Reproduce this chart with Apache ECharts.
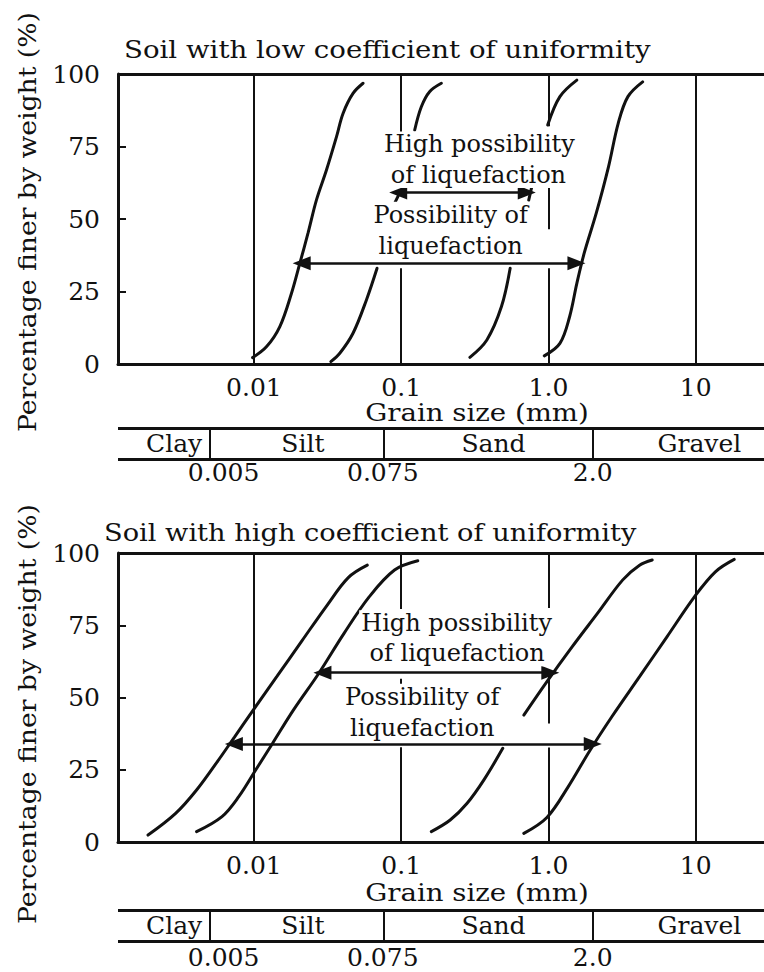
<!DOCTYPE html>
<html>
<head>
<meta charset="utf-8">
<script src="https://cdn.jsdelivr.net/npm/echarts@6/dist/echarts.min.js"></script>
<style>
  html, body { margin: 0; padding: 0; background: #fff; }
  #chart { width: 764px; height: 972px; }
</style>
</head>
<body>
<div id="chart"></div>
<script>
// ---- axis ticks ----
const decadeTicks = [0.01, 0.1, 1, 10];
const decadeLabels = ['0.01', '0.1', '1.0', '10'];
const pctTicks = [0, 25, 50, 75, 100];

// ---- soil classification band ----
const classBounds = [0.005, 0.075, 2.0];
const classBoundLabels = ['0.005', '0.075', '2.0'];
const classNames = ['Clay', 'Silt', 'Sand', 'Gravel'];
const classNameAt = [0.00287, 0.0215, 0.424, 10.6];

// ---- gradation curves: [grain size (mm), % finer]; each inner list is one drawn piece ----
const lowCuA = [[[0.0098, 2.2], [0.0122, 6.0], [0.0150, 12.9], [0.0180, 24.4], [0.0205, 34.7], [0.0233, 45.1],
                 [0.0266, 56.6], [0.0311, 66.9], [0.0364, 78.4], [0.0403, 86.4], [0.0471, 93.3], [0.0551, 96.8]]];
const lowCuB = [[[0.0333, 0.8], [0.0383, 3.7], [0.0471, 10.6], [0.0581, 22.1], [0.0686, 33.0]],
                [[0.0875, 54.0], [0.0977, 59.0]],
                [[0.1236, 80.7], [0.1371, 88.7], [0.1560, 93.9], [0.1875, 96.8]]];
const lowCuC = [[[0.293, 2.3], [0.382, 8.3], [0.480, 19.8], [0.550, 33.0]],
                [[0.735, 56.5], [0.770, 61.0]],
                [[0.989, 82.4], [1.197, 92.2], [1.560, 97.9]]];
const lowCuD = [[[0.938, 2.8], [1.197, 7.1], [1.393, 16.3], [1.560, 27.8], [1.750, 38.2], [2.113, 52.0],
                 [2.559, 68.0], [2.979, 83.0], [3.467, 92.2], [4.365, 97.3]]];

const highCuA = [[[0.00191, 2.4], [0.00294, 9.9], [0.00408, 18.0], [0.00568, 28.0], [0.00740, 36.4],
                  [0.0100, 46.0], [0.01429, 57.2], [0.02118, 69.6], [0.03148, 82.0], [0.04375, 91.5], [0.05888, 95.8]]];
const highCuB = [[[0.00408, 3.6], [0.00607, 8.8], [0.00789, 15.7], [0.01028, 24.9], [0.01337, 34.1],
                  [0.01858, 45.7], [0.02761, 58.4], [0.04093, 72.2], [0.06081, 84.9], [0.09016, 94.1], [0.1297, 97.3]]];
const highCuC = [[[0.1603, 3.6], [0.2153, 7.6], [0.2805, 13.4], [0.3648, 21.5], [0.4898, 32.4]],
                 [[0.6808, 43.9], [0.9772, 55.5], [1.452, 67.6], [2.153, 79.1], [3.199, 90.7], [4.159, 95.8], [5.070, 97.6]]];
const highCuD = [[[0.6808, 3.0], [0.9772, 8.5], [1.358, 19.0], [1.905, 31.5], [2.710, 43.5], [4.159, 57.2],
                  [6.383, 71.0], [9.863, 85.0], [13.61, 93.5], [18.28, 97.8]]];

// ---- decade gridlines, drawn in pieces: [grain size, from %, to %] ----
const lowCuGrid = [[0.01, 0, 100], [0.1, 80, 100], [0.1, 0, 33], [1, 82, 100], [1, 46.5, 62], [1, 0, 33], [10, 0, 100]];
const highCuGrid = [[0.01, 0, 100], [0.1, 80.6, 100], [0.1, 53, 56.5], [0.1, 0, 32.8],
                    [1, 81, 100], [1, 41, 58], [1, 0, 32.7], [10, 0, 100]];

// ---- liquefaction ranges: [from size, to size, at %] ----
const lowCuRanges = [[0.0955, 0.713, 59.1], [0.0211, 1.55, 34.7]];
const highCuRanges = [[0.0292, 1.03, 58.6], [0.00731, 2.0, 33.9]];

// ---- annotation text: [grain size, %, text] ----
const lowCuNotes = [[0.34, 75.7, 'High possibility'], [0.335, 65.2, 'of liquefaction'],
                    [0.217, 51.5, 'Possibility of'], [0.217, 40.6, 'liquefaction']];
const highCuNotes = [[0.238, 75.7, 'High possibility'], [0.240, 65.3, 'of liquefaction'],
                     [0.139, 50.3, 'Possibility of'], [0.139, 39.3, 'liquefaction']];

const panelTitles = ['Soil with low coefficient of uniformity', 'Soil with high coefficient of uniformity'];
const yName = 'Percentage finer by weight (%)';
const xName = 'Grain size (mm)';

// ---------------------------------------------------------------
const lg = Math.log10;
const X_MIN = -2.923, X_MAX = 1.6;
const PLOT_W = 666;
const FONT = '"DejaVu Serif", "Liberation Serif", serif';
const INK = '#111';
const plainLabel = { textBorderWidth: 0, textBorderColor: 'transparent', textShadowBlur: 0, opacity: 1 };

const panels = [
  { top: 74, height: 290, bandTop: 428, bandLabelGap: 1, curves: [lowCuA, lowCuB, lowCuC, lowCuD],
    grid: lowCuGrid, ranges: lowCuRanges, notes: lowCuNotes,
    title: panelTitles[0], titleX: 124, titleY: 50, titleScale: 1.15, xNameY: 413, yNameY: 222 },
  { top: 553, height: 289, bandTop: 910, bandLabelGap: 4, curves: [highCuA, highCuB, highCuC, highCuD],
    grid: highCuGrid, ranges: highCuRanges, notes: highCuNotes,
    title: panelTitles[1], titleX: 104, titleY: 533, titleScale: 1.135, xNameY: 893, yNameY: 714 }
];

const grids = [], xAxes = [], yAxes = [], series = [], graphics = [];

function decadeLabel(v) {
  const i = decadeTicks.findIndex(t => Math.abs(lg(t) - v) < 1e-6);
  return i < 0 ? '' : decadeLabels[i];
}
function boundLabel(v) {
  const i = classBounds.findIndex(t => Math.abs(lg(t) - v) < 1e-6);
  if (i < 0) return '';
  return i === 0 ? '{first|' + classBoundLabels[i] + '}' : classBoundLabels[i];
}

panels.forEach(p => {
  const gi = grids.length;
  // main plot
  grids.push({ left: 118, width: PLOT_W, top: p.top, height: p.height, outerBoundsMode: 'none', containLabel: false });
  xAxes.push({
    type: 'value', gridIndex: gi, min: X_MIN, max: X_MAX,
    axisLine: { show: true, onZero: false, lineStyle: { color: INK, width: 3 } },
    axisTick: { show: false }, splitLine: { show: false },
    axisLabel: { customValues: decadeTicks.map(lg), formatter: decadeLabel, margin: 11,
                 fontFamily: FONT, fontSize: 25, color: INK }
  });
  yAxes.push({
    type: 'value', gridIndex: gi, min: 0, max: 100, interval: 25,
    axisLine: { show: true, onZero: false, lineStyle: { color: INK, width: 3 } },
    axisTick: { show: true, inside: true, length: 8, lineStyle: { color: INK, width: 2 } },
    splitLine: { show: false },
    axisLabel: { margin: 18, fontFamily: FONT, fontSize: 25, color: INK,
                 formatter: v => pctTicks.includes(v) ? String(v) : '' }
  });

  // gridlines + top border
  series.push({
    type: 'line', xAxisIndex: gi, yAxisIndex: gi, data: [], silent: true, z: 1,
    markLine: {
      silent: true, symbol: ['none', 'none'], animation: false, label: { show: false },
      lineStyle: { color: INK, width: 2, type: 'solid' },
      data: p.grid.map(g => [{ coord: [lg(g[0]), g[1]] }, { coord: [lg(g[0]), g[2]] }])
        .concat([[{ coord: [X_MIN, 100], lineStyle: { width: 3 } }, { coord: [X_MAX, 100] }]])
    }
  });

  // gradation curves
  p.curves.forEach(curve => {
    curve.forEach(piece => {
      series.push({
        type: 'line', xAxisIndex: gi, yAxisIndex: gi, smooth: 0.35, showSymbol: false, silent: true, z: 3,
        lineStyle: { color: INK, width: 3, cap: 'round' },
        data: piece.map(pt => [lg(pt[0]), pt[1]])
      });
    });
  });

  // liquefaction range arrows
  series.push({
    type: 'line', xAxisIndex: gi, yAxisIndex: gi, data: [], silent: true, z: 6,
    markLine: {
      silent: true, animation: false, label: { show: false },
      symbol: ['triangle', 'triangle'], symbolSize: [14, 18],
      lineStyle: { color: INK, width: 2.5, type: 'solid' },
      itemStyle: { color: INK },
      data: p.ranges.map(r => [{ coord: [lg(r[0]), r[2]] }, { coord: [lg(r[1]), r[2]] }])
    }
  });

  // annotation text
  series.push({
    type: 'scatter', xAxisIndex: gi, yAxisIndex: gi, symbolSize: 0, silent: true, z: 5,
    itemStyle: { color: INK, opacity: 1 },
    data: p.notes.map(n => ({ value: [lg(n[0]), n[1]], label: { formatter: n[2] } })),
    label: Object.assign({ show: true, position: 'inside', fontFamily: FONT, fontSize: 24, color: INK,
             backgroundColor: '#fff', padding: [1, 2] }, plainLabel)
  });

  // classification band
  const bi = grids.length;
  grids.push({ left: 118, width: PLOT_W, top: p.bandTop, height: 31, outerBoundsMode: 'none', containLabel: false });
  xAxes.push({
    type: 'value', gridIndex: bi, min: X_MIN, max: X_MAX,
    axisLine: { show: false }, axisTick: { show: false }, splitLine: { show: false },
    axisLabel: { customValues: classBounds.map(lg), formatter: boundLabel, margin: p.bandLabelGap,
                 fontFamily: FONT, fontSize: 25, color: INK,
                 rich: { first: { fontFamily: FONT, fontSize: 25, color: INK, padding: [0, 0, 0, 28] } } }
  });
  yAxes.push({ type: 'value', gridIndex: bi, min: 0, max: 1, show: false });
  series.push({
    type: 'line', xAxisIndex: bi, yAxisIndex: bi, data: [], silent: true,
    markLine: {
      silent: true, symbol: ['none', 'none'], animation: false, label: { show: false },
      lineStyle: { color: INK, width: 2, type: 'solid' },
      data: classBounds.map(b => ({ xAxis: lg(b) }))
        .concat([{ yAxis: 0, lineStyle: { width: 3 } }, { yAxis: 1, lineStyle: { width: 3 } }])
    }
  });
  series.push({
    type: 'scatter', xAxisIndex: bi, yAxisIndex: bi, symbolSize: 0, silent: true,
    itemStyle: { color: INK, opacity: 1 },
    data: classNames.map((n, i) => ({ value: [lg(classNameAt[i]), 0.5], label: { formatter: n } })),
    label: Object.assign({ show: true, position: 'inside', fontFamily: FONT, fontSize: 25, color: INK }, plainLabel)
  });

  // panel title, x-axis name, y-axis name
  graphics.push({ type: 'text', x: p.titleX, y: p.titleY, scaleX: p.titleScale,
    style: { text: p.title, font: '24px ' + FONT, fill: INK, textAlign: 'left', textVerticalAlign: 'middle' } });
  graphics.push({ type: 'text', x: 477, y: p.xNameY, scaleX: 1.15,
    style: { text: xName, font: '24px ' + FONT, fill: INK, textAlign: 'center', textVerticalAlign: 'middle' } });
  graphics.push({ type: 'text', x: 27, y: p.yNameY, rotation: Math.PI / 2, scaleX: 1.11,
    style: { text: yName, font: '24px ' + FONT, fill: INK, textAlign: 'center', textVerticalAlign: 'middle' } });
});

const chart = echarts.init(document.getElementById('chart'), null, { renderer: 'svg' });
chart.setOption({
  animation: false,
  backgroundColor: '#fff',
  grid: grids,
  xAxis: xAxes,
  yAxis: yAxes,
  series: series,
  graphic: graphics
});
</script>
</body>
</html>
